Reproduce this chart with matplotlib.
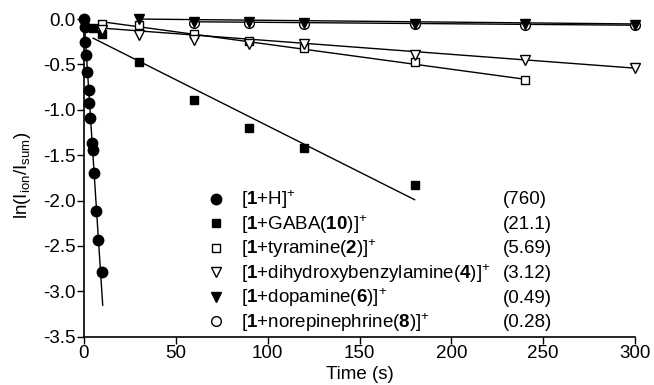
import matplotlib
matplotlib.use("Agg")
import matplotlib.pyplot as plt
import numpy as np

plt.rcParams['font.family'] = ['Liberation Sans', 'DejaVu Sans']
plt.rcParams['mathtext.fontset'] = 'custom'
plt.rcParams['mathtext.rm'] = 'Liberation Sans'
plt.rcParams['mathtext.bf'] = 'Liberation Sans:bold'
plt.rcParams['mathtext.it'] = 'Liberation Sans:italic'
plt.rcParams['axes.unicode_minus'] = False

# ---- data ----
t_H = [0, 0.3, 0.8, 1.3, 1.9, 2.5, 3.0, 3.5, 4.4, 4.7, 5.5, 6.5, 7.5, 10]
y_H = [0.0, -0.09, -0.25, -0.40, -0.58, -0.78, -0.93, -1.09, -1.37, -1.44, -1.70, -2.12, -2.43, -2.79]

t_GABA = [5, 10, 30, 60, 90, 120, 180]
y_GABA = [-0.10, -0.17, -0.47, -0.89, -1.20, -1.42, -1.83]

t_tyr = [10, 30, 60, 90, 120, 180, 240]
y_tyr = [-0.05, -0.07, -0.17, -0.24, -0.32, -0.47, -0.67]

t_dhba = [10, 30, 60, 90, 120, 180, 240, 300]
y_dhba = [-0.12, -0.18, -0.23, -0.27, -0.28, -0.40, -0.45, -0.54]

t_dop = [30, 60, 90, 120, 180, 240, 300]
y_dop = [0.0, -0.03, -0.03, -0.04, -0.05, -0.06, -0.065]

t_nor = [60, 90, 120, 180, 240, 300]
y_nor = [-0.04, -0.04, -0.05, -0.06, -0.065, -0.07]

# fitted lines: (t_start, t_end, intercept, slope)
fit_H = (0, 10.2, 0.02, -0.311)
fit_GABA = (5, 180, -0.16, -0.01017)
fit_tyr = (10, 240, -0.003, -0.00275)
fit_dhba = (10, 300, -0.085, -0.00152)
fit_dop = (30, 300, 0.006, -0.0002)
fit_nor = (60, 300, -0.0205, -0.000158)

labels = [r'[$\mathbf{1}$+H]$^{+}$',
          r'[$\mathbf{1}$+GABA($\mathbf{10}$)]$^{+}$',
          r'[$\mathbf{1}$+tyramine($\mathbf{2}$)]$^{+}$',
          r'[$\mathbf{1}$+dihydroxybenzylamine($\mathbf{4}$)]$^{+}$',
          r'[$\mathbf{1}$+dopamine($\mathbf{6}$)]$^{+}$',
          r'[$\mathbf{1}$+norepinephrine($\mathbf{8}$)]$^{+}$']
rates = ['(760)', '(21.1)', '(5.69)', '(3.12)', '(0.49)', '(0.28)']

x_ticks = [0, 50, 100, 150, 200, 250, 300]
y_ticks = [0.0, -0.5, -1.0, -1.5, -2.0, -2.5, -3.0, -3.5]

# ---- figure ----
fig = plt.figure(figsize=(6.54, 3.85), dpi=100)
ax = fig.add_axes([0.1284, 0.1255, 0.8426, 0.8368])

series = [
    (t_H, y_H, fit_H, dict(marker='o', ms=7.5, mfc='black', mec='black'), 3),
    (t_GABA, y_GABA, fit_GABA, dict(marker='s', ms=6.0, mfc='black', mec='black'), 3),
    (t_tyr, y_tyr, fit_tyr, dict(marker='s', ms=6.0, mfc='white', mec='black', mew=1.0), 3),
    (t_dhba, y_dhba, fit_dhba, dict(marker='v', ms=7.0, mfc='white', mec='black', mew=1.0), 3),
    (t_dop, y_dop, fit_dop, dict(marker='v', ms=7.0, mfc='black', mec='black'), 4),
    (t_nor, y_nor, fit_nor, dict(marker='o', ms=7.0, mfc='white', mec='black', mew=1.0), 3),
]

handles = []
for (tt, yy, fit, mk, z), lab in zip(series, labels):
    t0, t1, b, m = fit
    tl = np.array([t0, t1])
    ax.plot(tl, b + m * tl, color='black', lw=1.0, zorder=2, clip_on=False)
    h, = ax.plot(tt, yy, ls='none', zorder=z, clip_on=False, label=lab, **mk)
    handles.append(h)

ax.set_xlim(0, 300)
ax.set_ylim(-3.5, 0.05)
ax.set_xticks(x_ticks)
ax.set_yticks(y_ticks)
ax.set_yticklabels([f'{v:.1f}' for v in y_ticks])
ax.tick_params(direction='out', length=5, width=1.0, labelsize=13.5, pad=1)
for s in ['top', 'right']:
    ax.spines[s].set_visible(False)
for s in ['left', 'bottom']:
    ax.spines[s].set_linewidth(1.2)

ax.set_xlabel('Time (s)', fontsize=13.5, labelpad=3)
ax.set_ylabel(r'ln(I$_\mathregular{ion}$/I$_\mathregular{sum}$)', fontsize=13.5, labelpad=7)

leg = ax.legend(handles=handles, labels=labels, loc='upper left',
                bbox_to_anchor=(0.2225, 0.46), frameon=False, fontsize=13.5,
                handlelength=1.0, handletextpad=0.85, borderpad=0, borderaxespad=0,
                labelspacing=0.1)

fig.canvas.draw()
inv = ax.transAxes.inverted()
x_rate = (503 - 84) / 551
for txt, r in zip(leg.get_texts(), rates):
    bb = txt.get_window_extent()
    yc = inv.transform(((bb.x0 + bb.x1) / 2, (bb.y0 + bb.y1) / 2))[1]
    ax.text(x_rate, yc, r, transform=ax.transAxes, fontsize=13.5, va='center', ha='left')

fig.savefig('out.png', dpi=100)
